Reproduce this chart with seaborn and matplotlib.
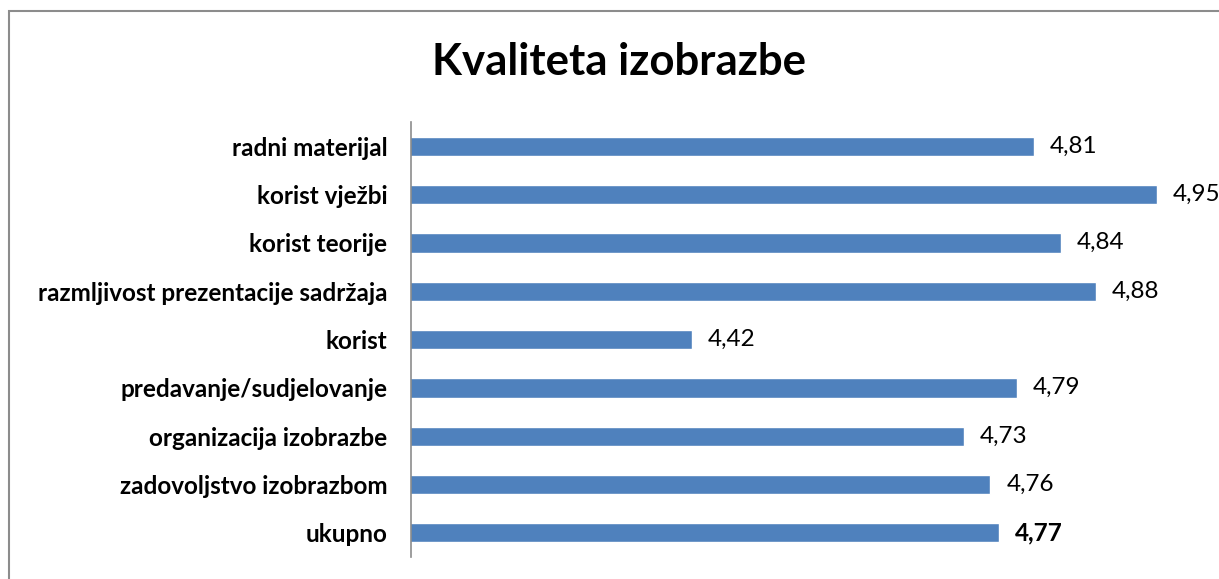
import matplotlib
matplotlib.use("Agg")
import matplotlib.pyplot as plt
import seaborn as sns
import pandas as pd
from matplotlib.patches import Rectangle

categories = ["radni materijal", "korist vježbi", "korist teorije",
              "razmljivost prezentacije sadržaja", "korist",
              "predavanje/sudjelovanje", "organizacija izobrazbe",
              "zadovoljstvo izobrazbom", "ukupno"]
values = [4.81, 4.95, 4.84, 4.88, 4.42, 4.79, 4.73, 4.76, 4.77]
value_labels = ["4,81", "4,95", "4,84", "4,88", "4,42", "4,79", "4,73", "4,76", "4,77"]
title = "Kvaliteta izobrazbe"

sns.set_style("white")
plt.rcParams['font.family'] = ['Lato', 'DejaVu Sans']
plt.rcParams['text.color'] = 'black'

df = pd.DataFrame({"cat": categories, "val": values})

fig = plt.figure(figsize=(12.19, 5.79), dpi=100)
ax = fig.add_axes([411/1219, 1-557/579, (1201-411)/1219, (557-122)/579])

sns.barplot(data=df, x="val", y="cat", orient="h", color="#4F81BD",
            saturation=1, width=0.4, ax=ax, order=categories)
ax.set_xlim(4.1, 5.0)
ax.set_ylim(len(categories)-0.5, -0.5)
ax.set_xlabel("")
ax.set_ylabel("")
ax.set_xticks([])
for s in ["top", "right", "bottom"]:
    ax.spines[s].set_visible(False)
ax.spines["left"].set_color("#8c8c8c")
ax.spines["left"].set_linewidth(1.2)
ax.tick_params(axis="y", length=0, pad=17)
for lbl in ax.get_yticklabels():
    lbl.set_fontweight("bold")
    lbl.set_fontsize(17.5)
    lbl.set_color("black")

for i, (v, t) in enumerate(zip(values, value_labels)):
    ax.annotate(t, xy=(v, i), xytext=(11.5, 0), textcoords="offset points",
                va="center", ha="left", fontsize=17.5, color="black",
                fontweight="bold" if categories[i] == "ukupno" else "normal")

fig.text(619/1219, 1-62/579, title, ha="center", va="center",
         fontsize=31.5, fontweight="bold", color="black")

fig.patches.append(Rectangle((9/1219, -0.1), 1.2, 1-11/579+0.1,
                             transform=fig.transFigure, fill=False,
                             edgecolor="#8c8c8c", linewidth=1.5))

fig.savefig("out.png", dpi=100)
